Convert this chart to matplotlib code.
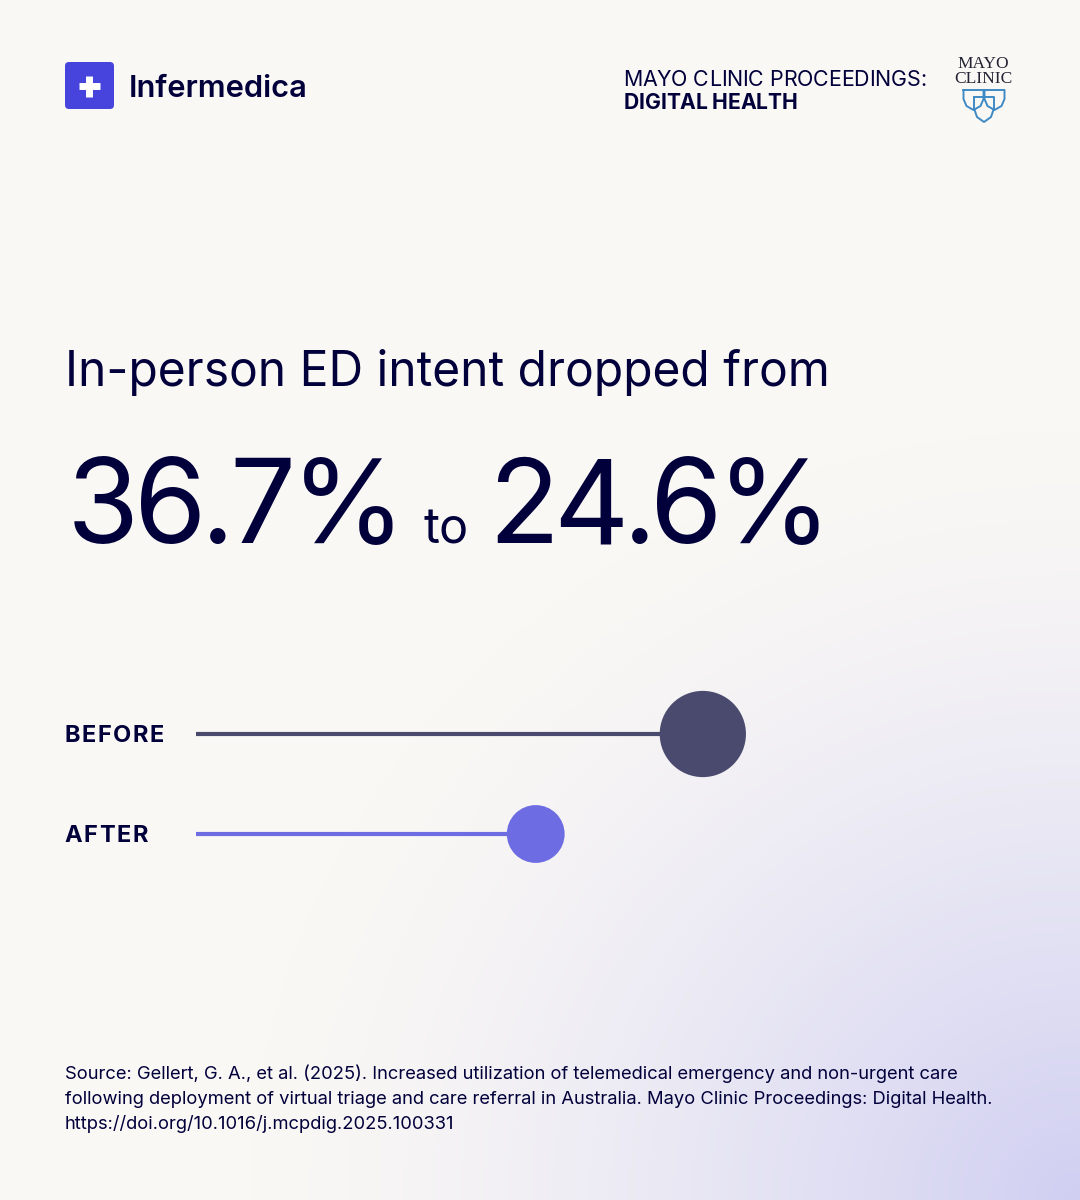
#!/usr/bin/env python3
"""In-person ED intent, before and after virtual triage."""

import matplotlib
matplotlib.use("Agg")
import matplotlib.pyplot as plt
import numpy as np
from matplotlib.font_manager import FontProperties
from matplotlib.patches import FancyBboxPatch

plt.rcParams["font.family"] = ["Inter", "DejaVu Sans"]

W, H = 1080, 1200
NAVY = "#01003a"
PURPLE = "#4644dc"

categories = ["BEFORE", "AFTER"]
values = [36.7, 24.6]
colors = ["#4a4a6e", "#6d6ce3"]
row_y = [734, 834]
title = "In-person ED intent dropped from"
source = [
    "Source: Gellert, G. A., et al. (2025). Increased utilization of telemedical emergency and non-urgent care",
    "following deployment of virtual triage and care referral in Australia. Mayo Clinic Proceedings: Digital Health.",
    "https://doi.org/10.1016/j.mcpdig.2025.100331",
]

fig = plt.figure(figsize=(W / 100, H / 100), dpi=100)
ax = fig.add_axes([0, 0, 1, 1])
ax.set_xlim(0, W)
ax.set_ylim(H, 0)
ax.axis("off")
renderer = fig.canvas.get_renderer()


def spaced_text(x, y, s, size, tracking, weight="normal"):
    """Baseline text with letter spacing, which matplotlib lacks."""
    prop = FontProperties(family="Inter", size=size, weight=weight)
    for i, ch in enumerate(s):
        adv = renderer.get_text_width_height_descent(s[:i], prop, False)[0] if i else 0
        ax.text(x + adv + i * tracking, y, ch, fontproperties=prop, color=NAVY,
                va="baseline", zorder=3)


# Background: off-white fading to lavender in the lower right corner.
yy, xx = np.mgrid[0:H:300j, 0:W:270j]
dist = np.hypot((W - xx) / 830, (H - yy) / 770)
t = np.clip(1 - dist, 0, 1) ** 1.4
base = np.array([250, 248, 245]) / 255
tint = np.array([208, 207, 242]) / 255
img = base + (tint - base) * t[..., None]
ax.imshow(img, extent=[0, W, H, 0], aspect="auto", zorder=0)

# Infermedica logo
ax.add_patch(FancyBboxPatch((69, 66), 41, 39, boxstyle="round,pad=4,rounding_size=4",
                            fc=PURPLE, ec="none", zorder=2))
ax.plot([78.5, 99.5], [86, 86], color="white", lw=5, solid_capstyle="butt", zorder=3)
ax.plot([89, 89], [75.5, 96.5], color="white", lw=5, solid_capstyle="butt", zorder=3)
ax.text(129, 86, "Infermedica", fontsize=22.2, fontweight="semibold", color=NAVY,
        va="center_baseline", zorder=3)

# Journal header
spaced_text(623, 86, "MAYO CLINIC PROCEEDINGS:", 15.4, -0.1)
spaced_text(624, 109, "DIGITAL HEALTH", 15.2, -0.2, weight="bold")
ax.text(983.5, 64, "MAYO", family="Liberation Serif", fontsize=12.5, color="#222233",
        ha="center", va="center", zorder=3)
ax.text(983.5, 79, "CLINIC", family="Liberation Serif", fontsize=12.5, color="#222233",
        ha="center", va="center", zorder=3)

# Mayo shields
for cx, cy, w, h in [(973.5, 90, 10, 20), (994.5, 90, 10, 20), (984, 97, 10, 25)]:
    sx = [cx - w, cx - w, cx - w * 0.7, cx, cx + w * 0.7, cx + w, cx + w, cx - w]
    sy = [cy, cy + h * 0.45, cy + h * 0.8, cy + h, cy + h * 0.8, cy + h * 0.45, cy, cy]
    ax.plot(sx, sy, color="#3f8ac4", lw=1.4, solid_joinstyle="round", zorder=3)

# Headline
ax.text(65, 367, title, fontsize=34.5, color=NAVY, va="center_baseline", zorder=3)
spaced_text(66.5, 543, "36.7%", 84, -5)
ax.text(423, 543, "to", fontsize=35, color=NAVY, va="baseline", zorder=3)
spaced_text(488, 543, "24.6%", 84, -6)

# Lollipops share a linear x scale, starting at pixel 196 and 13.81 px per percent
x0_px, px_per_pct = 196, 13.81
x_max = (W - x0_px) / px_per_pct
lolli = fig.add_axes([x0_px / W, 0, (W - x0_px) / W, 1])
lolli.set_xlim(0, x_max)
lolli.set_ylim(H, 0)
lolli.axis("off")
lolli.patch.set_alpha(0)
for cat, val, col, y in zip(categories, values, colors, row_y):
    lolli.plot([0, val], [y, y], color=col, lw=3, solid_capstyle="butt", zorder=2)
    d_px = val * 2.35
    lolli.scatter([val], [y], s=(d_px * 0.72) ** 2, color=col, edgecolor="none", zorder=3)
    spaced_text(64.5, y + 8.5, cat, 17, 1.6, weight="bold")

# Source note
for line, y in zip(source, [1072, 1097, 1122]):
    ax.text(65, y, line, fontsize=13.25, color=NAVY, va="center_baseline", zorder=3)

fig.savefig("out.png", dpi=100)
